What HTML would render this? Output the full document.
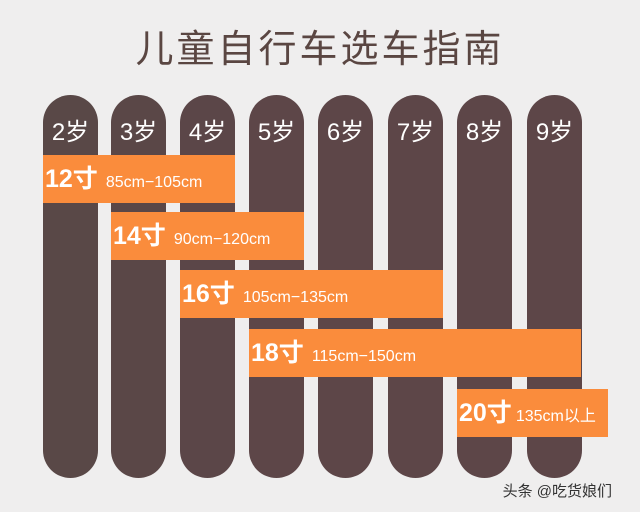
<!DOCTYPE html>
<html><head><meta charset="utf-8"><style>
body{margin:0;width:640px;height:512px;background:#efeeee;position:relative;overflow:hidden;font-family:"Liberation Sans","Noto Sans CJK SC",sans-serif}
.t{position:absolute;left:0;width:640px;top:18px;text-align:center;font-size:38px;color:#5a4642;letter-spacing:3px}
.c{position:absolute;top:95px;width:55px;height:383px;background:#5d4648;border-radius:28px;color:#fff;font-size:24px;text-align:center;padding-top:17px;box-sizing:border-box}
.b{position:absolute;height:48px;background:#fa8c3c;color:#fff;white-space:nowrap;line-height:48px}
.b .s{font-size:25px;font-weight:bold;margin-left:2px}
.b .r{font-size:16px;margin-left:8px}
.w{position:absolute;right:28px;top:480px;font-size:15px;color:#333}
</style></head><body>
<div class="t">儿童自行车选车指南</div>
<div class="c" style="left:43px;background:#594847">2岁</div>
<div class="c" style="left:111px;background:#5a4747">3岁</div>
<div class="c" style="left:180px;background:#5b4648">4岁</div>
<div class="c" style="left:249px">5岁</div>
<div class="c" style="left:318px">6岁</div>
<div class="c" style="left:388px">7岁</div>
<div class="c" style="left:457px">8岁</div>
<div class="c" style="left:527px">9岁</div>
<div class="b" style="left:43px;top:155px;width:192px"><span class="s">12寸</span><span class="r">85cm−105cm</span></div>
<div class="b" style="left:111px;top:212px;width:193px"><span class="s">14寸</span><span class="r">90cm−120cm</span></div>
<div class="b" style="left:180px;top:270px;width:263px"><span class="s">16寸</span><span class="r">105cm−135cm</span></div>
<div class="b" style="left:249px;top:329px;width:332px"><span class="s">18寸</span><span class="r">115cm−150cm</span></div>
<div class="b" style="left:457px;top:389px;width:151px"><span class="s">20寸</span><span class="r" style="margin-left:4px">135cm以上</span></div>
<div class="w">头条 @吃货娘们</div>
</body></html>
